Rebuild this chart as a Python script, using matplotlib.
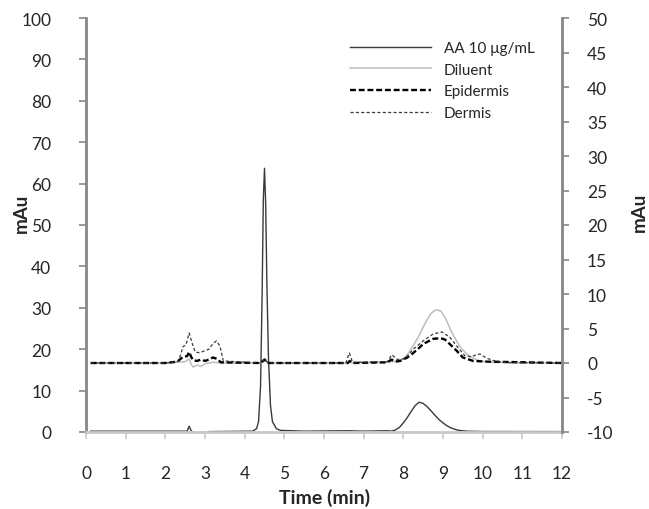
import matplotlib
matplotlib.use('Agg')
import matplotlib.pyplot as plt

plt.ioff()

# AA 10 ug/mL standard, left axis (mAu)
aa_time = [0.12, 2.55, 2.6, 2.65, 2.7, 2.8, 2.9, 3.0, 3.1, 4.2, 4.3, 4.35,
           4.4, 4.44, 4.47, 4.5, 4.53, 4.56, 4.6, 4.65, 4.7, 4.8, 4.9, 5.5,
           6.6, 7.0, 7.6, 7.7, 7.8, 7.9, 8.0, 8.1, 8.2, 8.3, 8.4, 8.5, 8.6,
           8.7, 8.8, 8.9, 9.0, 9.1, 9.2, 9.3, 9.4, 9.6, 10.0, 12.0]
aa_vals = [0.2, 0.2, 1.4, 0.3, -0.1, -0.3, -0.2, -0.3, 0.1, 0.2, 0.8, 2.5,
           11.0, 33.0, 56.0, 63.7, 55.0, 36.0, 18.0, 6.5, 2.5, 0.8, 0.4, 0.2,
           0.3, 0.2, 0.3, 0.2, 0.5, 1.1, 2.2, 3.5, 5.0, 6.4, 7.2, 6.9, 6.1,
           5.1, 4.0, 3.0, 2.2, 1.5, 1.0, 0.65, 0.4, 0.2, 0.12, 0.1]

# samples, right axis (mAu)
dil_time = [0.12, 2.0, 2.3, 2.5, 2.6, 2.65, 2.7, 2.8, 2.9, 3.0, 3.2, 3.4,
            4.4, 4.5, 4.6, 6.6, 6.65, 6.7, 7.6, 7.9, 8.0, 8.1, 8.25, 8.4,
            8.5, 8.6, 8.7, 8.8, 8.85, 8.95, 9.05, 9.1, 9.2, 9.3, 9.4, 9.5,
            9.6, 9.7, 9.8, 9.93, 10.2, 12.0]
dil_vals = [0.0, 0.0, 0.1, 0.2, 0.6, -0.2, -0.6, -0.3, -0.5, -0.1, 0.1, 0.0,
            0.0, 0.3, 0.0, 0.0, 0.3, 0.0, 0.1, 0.3, 0.6, 1.2, 2.5, 4.0,
            5.2, 6.3, 7.2, 7.65, 7.7, 7.5, 6.6, 6.0, 4.7, 3.6, 2.6, 1.9,
            1.3, 0.9, 0.6, 0.3, 0.1, 0.0]

epi_time = [0.12, 2.0, 2.3, 2.45, 2.55, 2.6, 2.65, 2.7, 2.8, 2.9, 3.0, 3.1,
            3.2, 3.3, 3.4, 4.4, 4.5, 4.6, 6.6, 6.65, 6.7, 7.6, 7.7, 7.8,
            7.92, 8.1, 8.25, 8.4, 8.5, 8.65, 8.75, 8.94, 9.05, 9.17, 9.34,
            9.5, 9.76, 10.1, 12.0]
epi_vals = [0.0, 0.0, 0.2, 0.9, 1.0, 1.6, 0.9, 0.4, 0.3, 0.5, 0.3, 0.5,
            0.8, 0.6, 0.1, 0.0, 0.5, 0.0, 0.0, 0.3, 0.0, 0.1, 0.5, 0.2,
            0.3, 0.8, 1.45, 2.2, 2.75, 3.2, 3.5, 3.6, 3.4, 2.75, 1.8,
            0.8, 0.3, 0.2, 0.0]

der_time = [0.12, 2.0, 2.3, 2.35, 2.45, 2.52, 2.6, 2.68, 2.75, 2.85, 2.92,
            3.0, 3.1, 3.2, 3.29, 3.38, 3.46, 4.4, 4.5, 4.6, 6.55, 6.64,
            6.72, 7.6, 7.71, 7.85, 8.0, 8.1, 8.25, 8.5, 8.75, 8.97, 9.17,
            9.34, 9.55, 9.7, 9.85, 9.93, 10.1, 10.3, 10.6, 12.0]
der_vals = [0.0, 0.0, 0.2, 0.6, 2.4, 2.6, 4.35, 2.8, 1.6, 1.5, 1.6,
            1.8, 2.0, 2.8, 3.2, 2.4, 0.3, 0.0, 0.6, 0.0, 0.0, 1.45,
            0.1, 0.2, 1.2, 0.5, 0.6, 1.0, 2.0, 3.2, 4.2, 4.5, 3.75,
            2.5, 1.06, 0.9, 1.2, 1.3, 0.7, 0.3, 0.05, 0.0]

x_ticks = list(range(0, 13))
left_ticks = list(range(0, 101, 10))
right_ticks = list(range(-10, 51, 5))

labels = ['AA 10 \u03bcg/mL', 'Diluent', 'Epidermis', 'Dermis']


def main():

    plt.rcParams['font.family'] = ['Lato', 'DejaVu Sans']
    plt.rcParams['axes.unicode_minus'] = False

    axis_clr = '#868686'
    txt_clr = '#262626'

    fig = plt.figure(figsize=(6.49, 5.10), dpi=100)
    ax = fig.add_axes([86 / 649, 77 / 510, 476 / 649, 414 / 510])
    ax2 = ax.twinx()

    l1, = ax.plot(aa_time, aa_vals, color='#3a3a3a', lw=1.0)

    l2, = ax2.plot(dil_time, dil_vals, color='#bdbdbd', lw=1.1)
    l3, = ax2.plot(
        epi_time, epi_vals, color='black', lw=1.7, ls=(0, (2.5, 1.2)))
    l4, = ax2.plot(
        der_time, der_vals, color='#3a3a3a', lw=0.9, ls=(0, (2.5, 1.8)))

    ax.set_xlim(0, 12)
    ax.set_ylim(0, 100)
    ax2.set_ylim(-10, 50)

    ax.set_xticks(x_ticks)
    ax.set_yticks(left_ticks)
    ax2.set_yticks(right_ticks)

    for a in (ax, ax2):
        a.spines['top'].set_visible(False)
        a.patch.set_visible(False)

    ax.spines['right'].set_visible(False)
    ax.spines['left'].set_color(axis_clr)
    ax.spines['left'].set_linewidth(2)
    ax.spines['bottom'].set_color('#c8c8c8')
    ax.spines['bottom'].set_linewidth(2)

    ax2.spines['left'].set_visible(False)
    ax2.spines['bottom'].set_visible(False)
    ax2.spines['right'].set_color(axis_clr)
    ax2.spines['right'].set_linewidth(2)

    ax.tick_params(
        axis='x', direction='out', length=5, width=1.2, color='#c8c8c8',
        pad=19, labelsize=12.5, labelcolor=txt_clr)
    ax.tick_params(
        axis='y', direction='out', length=5, width=1.2, color=axis_clr,
        pad=20, labelsize=12.5, labelcolor=txt_clr)
    ax2.tick_params(
        axis='y', direction='out', length=5, width=1.2, color=axis_clr,
        pad=13, labelsize=12.5, labelcolor=txt_clr)

    fig.text(
        21 / 649, 1 - 213 / 510, 'mAu', rotation=90, ha='center',
        va='center', fontsize=13.5, fontweight='bold', color=txt_clr)
    fig.text(
        639 / 649, 1 - 212 / 510, 'mAu', rotation=90, ha='center',
        va='center', fontsize=13.5, fontweight='bold', color=txt_clr)
    fig.text(
        325 / 649, 1 - 498 / 510, 'Time (min)', ha='center', va='center',
        fontsize=14, fontweight='bold', color=txt_clr)

    fig.legend(
        [l1, l2, l3, l4], labels, loc='upper left',
        bbox_to_anchor=(350 / 649, 1 - 42 / 510), frameon=False,
        fontsize=11, handlelength=5.3, handletextpad=0.85,
        labelspacing=0.5, borderpad=0, borderaxespad=0,
        labelcolor=txt_clr)

    fig.savefig('out.png', dpi=100)
    plt.close(fig)
    return


if __name__ == '__main__':
    main()
